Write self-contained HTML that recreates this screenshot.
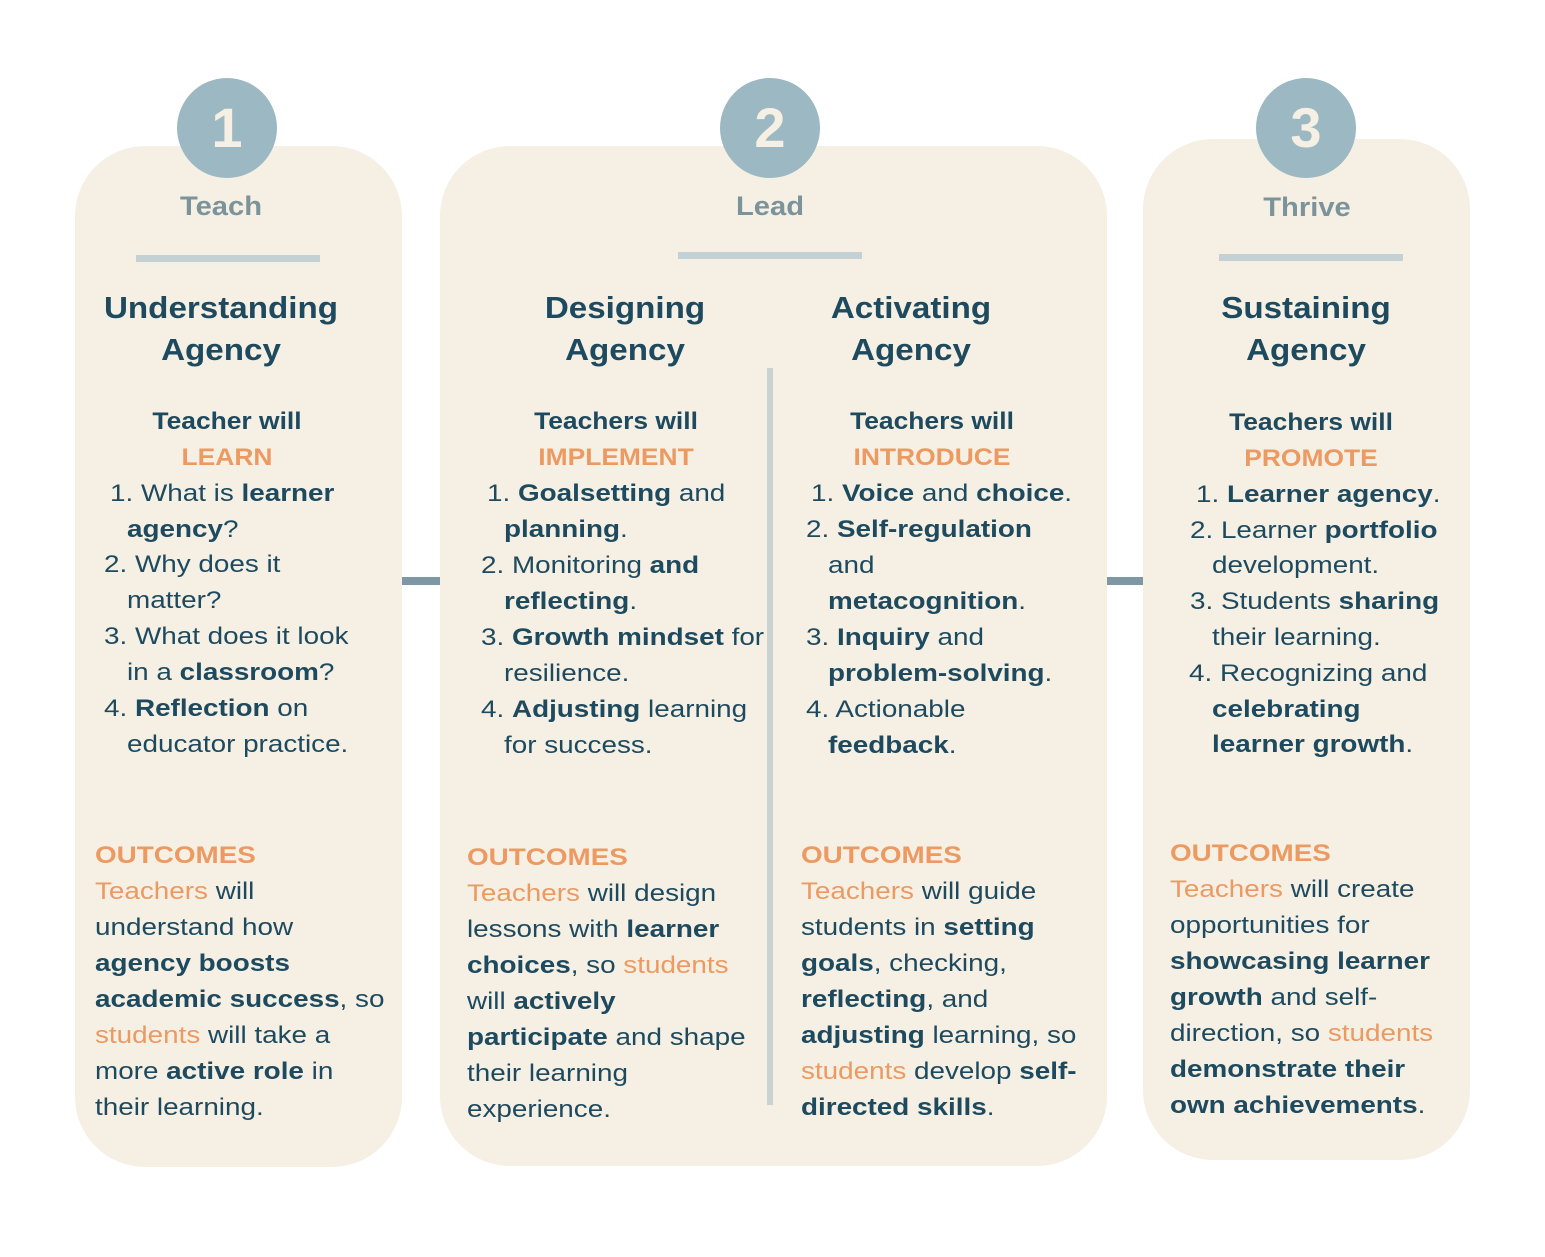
<!DOCTYPE html>
<html><head><meta charset="utf-8"><style>
html,body{margin:0;padding:0;background:#fff;}
body{width:1545px;height:1257px;position:relative;overflow:hidden;font-family:"Liberation Sans",sans-serif;color:#1e4a60;}
.card{position:absolute;background:#f5f0e3;border-radius:70px;}
.circ{position:absolute;width:100px;height:100px;border-radius:50%;background:#9cb8c3;color:#f5f0e3;font-size:56px;font-weight:bold;text-align:center;line-height:100px;}
.lab{position:absolute;color:#7b939b;font-weight:bold;font-size:27px;width:200px;text-align:center;transform:scaleX(1.08);}
.bar{position:absolute;height:7px;background:#c4d1d4;width:184px;}
.h{position:absolute;font-weight:bold;font-size:31px;text-align:center;line-height:42px;transform:scaleX(1.07);}
.t{position:absolute;font-size:24px;line-height:36px;white-space:nowrap;transform:scaleX(1.16);transform-origin:left center;}
.c{text-align:center;font-weight:bold;transform-origin:center center;transform:scaleX(1.1);}
b{font-weight:bold;}
.o{color:#ec9a62;}
.ob{color:#ec9a62;font-weight:bold;}
</style></head><body>
<div class="card" style="left:75px;top:146px;width:327px;height:1021px;"></div>
<div class="card" style="left:440px;top:146px;width:667px;height:1020px;"></div>
<div class="card" style="left:1143px;top:139px;width:327px;height:1021px;"></div>
<div style="position:absolute;left:402px;top:577px;width:38px;height:8px;background:#7d97a4"></div>
<div style="position:absolute;left:1107px;top:577px;width:36px;height:8px;background:#7d97a4"></div>
<div style="position:absolute;left:767px;top:368px;width:6px;height:737px;background:#c9d3d3"></div>

<div class="circ" style="left:177px;top:78px;">1</div>
<div class="circ" style="left:720px;top:78px;">2</div>
<div class="circ" style="left:1256px;top:78px;">3</div>
<div class="lab" style="left:121px;top:191px;">Teach</div>
<div class="lab" style="left:670px;top:191px;">Lead</div>
<div class="lab" style="left:1207px;top:192px;">Thrive</div>
<div class="bar" style="left:136px;top:255px;"></div>
<div class="bar" style="left:678px;top:252px;"></div>
<div class="bar" style="left:1219px;top:254px;"></div>

<div class="h" style="left:71px;top:287px;width:300px;">Understanding<br>Agency</div>
<div class="h" style="left:475px;top:287px;width:300px;">Designing<br>Agency</div>
<div class="h" style="left:761px;top:287px;width:300px;">Activating<br>Agency</div>
<div class="h" style="left:1156px;top:287px;width:300px;">Sustaining<br>Agency</div>

<!-- col1 -->
<div class="t c" style="left:77px;top:404px;width:300px;">Teacher will</div>
<div class="t c o" style="left:77px;top:440px;width:300px;">LEARN</div>
<div class="t" style="left:110px;top:476px;">1. What is <b>learner</b></div>
<div class="t" style="left:127px;top:512px;"><b>agency</b>?</div>
<div class="t" style="left:104px;top:547px;">2. Why does it</div>
<div class="t" style="left:127px;top:583px;">matter?</div>
<div class="t" style="left:104px;top:619px;">3. What does it look</div>
<div class="t" style="left:127px;top:655px;">in a <b>classroom</b>?</div>
<div class="t" style="left:104px;top:691px;">4. <b>Reflection</b> on</div>
<div class="t" style="left:127px;top:727px;">educator practice.</div>
<div class="t ob" style="left:95px;top:838px;">OUTCOMES</div>
<div class="t" style="left:95px;top:874px;"><span class="o">Teachers</span> will</div>
<div class="t" style="left:95px;top:910px;">understand how</div>
<div class="t" style="left:95px;top:946px;"><b>agency boosts</b></div>
<div class="t" style="left:95px;top:982px;"><b>academic success</b>, so</div>
<div class="t" style="left:95px;top:1018px;"><span class="o">students</span> will take a</div>
<div class="t" style="left:95px;top:1054px;">more <b>active role</b> in</div>
<div class="t" style="left:95px;top:1090px;">their learning.</div>

<!-- col2 -->
<div class="t c" style="left:466px;top:404px;width:300px;">Teachers will</div>
<div class="t c o" style="left:466px;top:440px;width:300px;">IMPLEMENT</div>
<div class="t" style="left:487px;top:476px;">1. <b>Goalsetting</b> and</div>
<div class="t" style="left:504px;top:512px;"><b>planning</b>.</div>
<div class="t" style="left:481px;top:548px;">2. Monitoring <b>and</b></div>
<div class="t" style="left:504px;top:584px;"><b>reflecting</b>.</div>
<div class="t" style="left:481px;top:620px;">3. <b>Growth mindset</b> for</div>
<div class="t" style="left:504px;top:656px;">resilience.</div>
<div class="t" style="left:481px;top:692px;">4. <b>Adjusting</b> learning</div>
<div class="t" style="left:504px;top:728px;">for success.</div>
<div class="t ob" style="left:467px;top:840px;">OUTCOMES</div>
<div class="t" style="left:467px;top:876px;"><span class="o">Teachers</span> will design</div>
<div class="t" style="left:467px;top:912px;">lessons with <b>learner</b></div>
<div class="t" style="left:467px;top:948px;"><b>choices</b>, so <span class="o">students</span></div>
<div class="t" style="left:467px;top:984px;">will <b>actively</b></div>
<div class="t" style="left:467px;top:1020px;"><b>participate</b> and shape</div>
<div class="t" style="left:467px;top:1056px;">their learning</div>
<div class="t" style="left:467px;top:1092px;">experience.</div>

<!-- col3 -->
<div class="t c" style="left:782px;top:404px;width:300px;">Teachers will</div>
<div class="t c o" style="left:782px;top:440px;width:300px;">INTRODUCE</div>
<div class="t" style="left:811px;top:476px;">1. <b>Voice</b> and <b>choice</b>.</div>
<div class="t" style="left:806px;top:512px;">2. <b>Self-regulation</b></div>
<div class="t" style="left:828px;top:548px;">and</div>
<div class="t" style="left:828px;top:584px;"><b>metacognition</b>.</div>
<div class="t" style="left:806px;top:620px;">3. <b>Inquiry</b> and</div>
<div class="t" style="left:828px;top:656px;"><b>problem-solving</b>.</div>
<div class="t" style="left:806px;top:692px;">4. Actionable</div>
<div class="t" style="left:828px;top:728px;"><b>feedback</b>.</div>
<div class="t ob" style="left:801px;top:838px;">OUTCOMES</div>
<div class="t" style="left:801px;top:874px;"><span class="o">Teachers</span> will guide</div>
<div class="t" style="left:801px;top:910px;">students in <b>setting</b></div>
<div class="t" style="left:801px;top:946px;"><b>goals</b>, checking,</div>
<div class="t" style="left:801px;top:982px;"><b>reflecting</b>, and</div>
<div class="t" style="left:801px;top:1018px;"><b>adjusting</b> learning, so</div>
<div class="t" style="left:801px;top:1054px;"><span class="o">students</span> develop <b>self-</b></div>
<div class="t" style="left:801px;top:1090px;"><b>directed skills</b>.</div>

<!-- col4 -->
<div class="t c" style="left:1161px;top:405px;width:300px;">Teachers will</div>
<div class="t c o" style="left:1161px;top:441px;width:300px;">PROMOTE</div>
<div class="t" style="left:1196px;top:477px;">1. <b>Learner agency</b>.</div>
<div class="t" style="left:1190px;top:513px;">2. Learner <b>portfolio</b></div>
<div class="t" style="left:1212px;top:548px;">development.</div>
<div class="t" style="left:1190px;top:584px;">3. Students <b>sharing</b></div>
<div class="t" style="left:1212px;top:620px;">their learning.</div>
<div class="t" style="left:1189px;top:656px;">4. Recognizing and</div>
<div class="t" style="left:1212px;top:692px;"><b>celebrating</b></div>
<div class="t" style="left:1212px;top:727px;"><b>learner growth</b>.</div>
<div class="t ob" style="left:1170px;top:836px;">OUTCOMES</div>
<div class="t" style="left:1170px;top:872px;"><span class="o">Teachers</span> will create</div>
<div class="t" style="left:1170px;top:908px;">opportunities for</div>
<div class="t" style="left:1170px;top:944px;"><b>showcasing learner</b></div>
<div class="t" style="left:1170px;top:980px;"><b>growth</b> and self-</div>
<div class="t" style="left:1170px;top:1016px;">direction, so <span class="o">students</span></div>
<div class="t" style="left:1170px;top:1052px;"><b>demonstrate their</b></div>
<div class="t" style="left:1170px;top:1088px;"><b>own achievements</b>.</div>
</body></html>
